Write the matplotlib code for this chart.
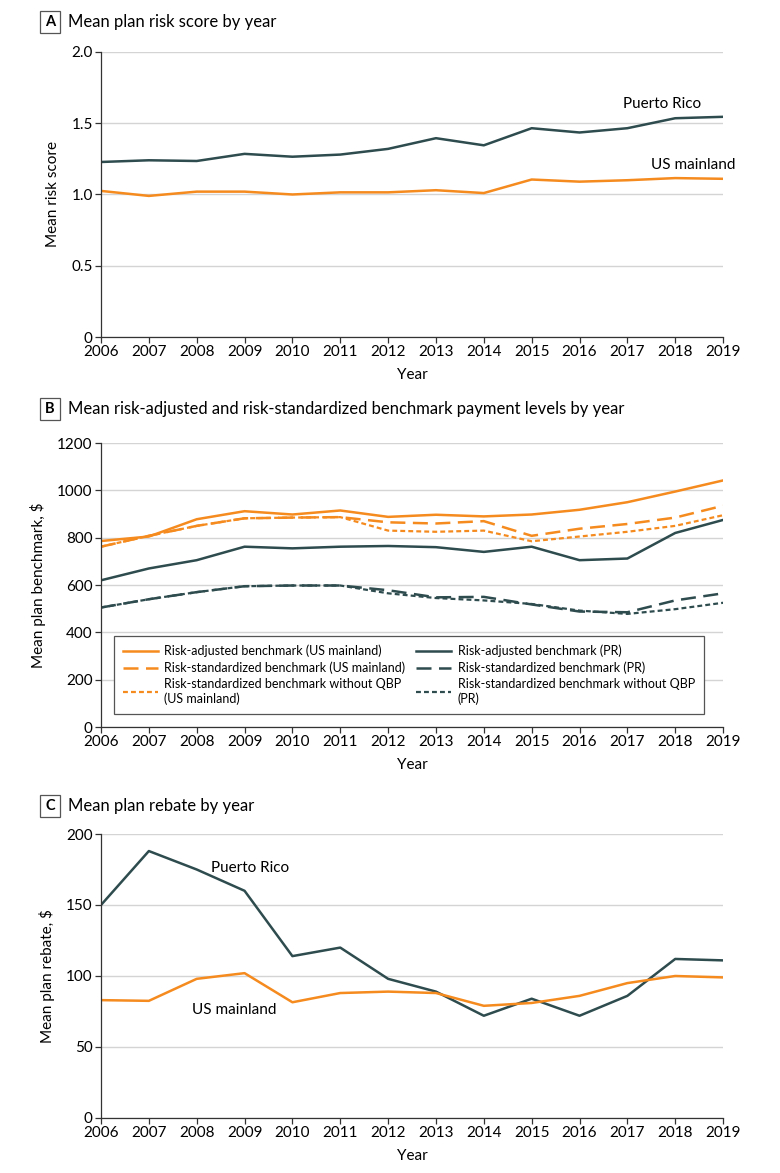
import matplotlib
matplotlib.use('Agg')
import matplotlib.pyplot as plt
from matplotlib.patches import Rectangle

plt.rcParams['font.family'] = ['DejaVu Sans Condensed', 'Lato', 'DejaVu Sans']

ORANGE = '#F58A1F'
TEAL = '#2E4B4E'
GRID = '#D4D4D4'

years = list(range(2006, 2020))

# Panel A: mean risk score
risk_pr = [1.228, 1.24, 1.235, 1.285, 1.265, 1.28, 1.32, 1.395, 1.345, 1.465, 1.435, 1.465, 1.535, 1.545]
risk_us = [1.025, 0.99, 1.02, 1.02, 1.0, 1.015, 1.015, 1.03, 1.01, 1.105, 1.09, 1.1, 1.115, 1.11]

# Panel B: benchmarks
bench_us_adj = [786, 805, 878, 912, 898, 915, 888, 897, 890, 898, 918, 950, 995, 1042]
bench_us_std = [762, 808, 850, 882, 885, 887, 865, 860, 870, 808, 838, 858, 885, 935]
bench_us_noqbp = [762, 808, 850, 882, 885, 887, 830, 825, 830, 785, 805, 825, 850, 895]
bench_pr_adj = [620, 670, 705, 762, 755, 762, 765, 760, 740, 762, 705, 712, 820, 875]
bench_pr_std = [505, 540, 570, 595, 598, 598, 578, 548, 550, 518, 488, 485, 535, 565]
bench_pr_noqbp = [505, 540, 570, 595, 598, 598, 565, 545, 535, 520, 492, 478, 498, 525]

# Panel C: rebates
rebate_pr = [150, 188, 175, 160, 114, 120, 98, 89, 72, 84, 72, 86, 112, 111]
rebate_us = [83, 82.5, 98, 102, 81.5, 88, 89, 88, 79, 81, 86, 95, 100, 99]

fig = plt.figure(figsize=(7.8, 11.73), dpi=100)
left, width = 0.1295, 0.7975
axA = fig.add_axes([left, 0.7127, width, 0.243])
axB = fig.add_axes([left, 0.3802, width, 0.2421])
axC = fig.add_axes([left, 0.0469, width, 0.2421])


def style(ax, ylim, yticks, ylabels, ylabel):
    ax.set_xlim(2006, 2019)
    ax.set_ylim(*ylim)
    ax.set_xticks(years)
    ax.set_yticks(yticks)
    ax.set_yticklabels(ylabels)
    ax.grid(axis='y', color=GRID, linewidth=1)
    ax.set_axisbelow(True)
    for s in ['top', 'right']:
        ax.spines[s].set_visible(False)
    for s in ['left', 'bottom']:
        ax.spines[s].set_color('#333333')
        ax.spines[s].set_linewidth(0.9)
    ax.tick_params(direction='out', length=4, width=0.9, color='#333333',
                   labelsize=11, pad=2)
    ax.set_xlabel('Year', fontsize=11, labelpad=6)
    ax.set_ylabel(ylabel, fontsize=11, labelpad=8)


def panel_title(ax, letter, text, y):
    fig.patches.append(Rectangle((40 / 780, 1 - (y + 11) / 1173), 20 / 780, 22 / 1173,
                                 transform=fig.transFigure, fill=False,
                                 edgecolor='#555555', linewidth=0.9))
    fig.text(50 / 780, 1 - y / 1173, letter, ha='center', va='center',
             fontsize=10.5, fontweight='bold')
    fig.text(68 / 780, 1 - y / 1173, text, ha='left', va='center', fontsize=12)


# Panel A
axA.plot(years, risk_pr, color=TEAL, linewidth=1.8)
axA.plot(years, risk_us, color=ORANGE, linewidth=1.8)
style(axA, (0, 2.0), [0, 0.5, 1.0, 1.5, 2.0], ['0', '0.5', '1.0', '1.5', '2.0'], 'Mean risk score')
axA.text(2016.9, 1.635, 'Puerto Rico', fontsize=11, ha='left', va='center')
axA.text(2017.5, 1.21, 'US mainland', fontsize=11, ha='left', va='center')
panel_title(axA, 'A', 'Mean plan risk score by year', 22)

# Panel B
axB.plot(years, bench_us_noqbp, color=ORANGE, linewidth=1.6, linestyle=(0, (2.2, 1.4)),
         label='Risk-standardized benchmark without QBP\n(US mainland)')
axB.plot(years, bench_us_std, color=ORANGE, linewidth=1.8, linestyle=(0, (6, 3)),
         label='Risk-standardized benchmark (US mainland)')
axB.plot(years, bench_us_adj, color=ORANGE, linewidth=1.8,
         label='Risk-adjusted benchmark (US mainland)')
axB.plot(years, bench_pr_noqbp, color=TEAL, linewidth=1.6, linestyle=(0, (2.2, 1.4)),
         label='Risk-standardized benchmark without QBP\n(PR)')
axB.plot(years, bench_pr_std, color=TEAL, linewidth=1.8, linestyle=(0, (6, 3)),
         label='Risk-standardized benchmark (PR)')
axB.plot(years, bench_pr_adj, color=TEAL, linewidth=1.8,
         label='Risk-adjusted benchmark (PR)')
style(axB, (0, 1200), [0, 200, 400, 600, 800, 1000, 1200],
      ['0', '200', '400', '600', '800', '1000', '1200'], 'Mean plan benchmark, $')
h, l = axB.get_legend_handles_labels()
order = [2, 1, 0, 5, 4, 3]
leg = axB.legend([h[i] for i in order], [l[i] for i in order], ncol=2,
                 loc='lower left', bbox_to_anchor=(0.011, 0.025),
                 fontsize=9, frameon=True, fancybox=False,
                 handlelength=2.8, handletextpad=0.5, columnspacing=0.9,
                 labelspacing=0.35, borderpad=0.7)
leg.get_frame().set_edgecolor('#555555')
leg.get_frame().set_linewidth(0.9)
leg.get_frame().set_alpha(1)
panel_title(axB, 'B', 'Mean risk-adjusted and risk-standardized benchmark payment levels by year', 409)

# Panel C
axC.plot(years, rebate_pr, color=TEAL, linewidth=1.8)
axC.plot(years, rebate_us, color=ORANGE, linewidth=1.8)
style(axC, (0, 200), [0, 50, 100, 150, 200], ['0', '50', '100', '150', '200'], 'Mean plan rebate, $')
axC.text(2008.3, 176, 'Puerto Rico', fontsize=11, ha='left', va='center')
axC.text(2007.9, 76, 'US mainland', fontsize=11, ha='left', va='center')
panel_title(axC, 'C', 'Mean plan rebate by year', 806)

fig.savefig('out.png', dpi=100)
